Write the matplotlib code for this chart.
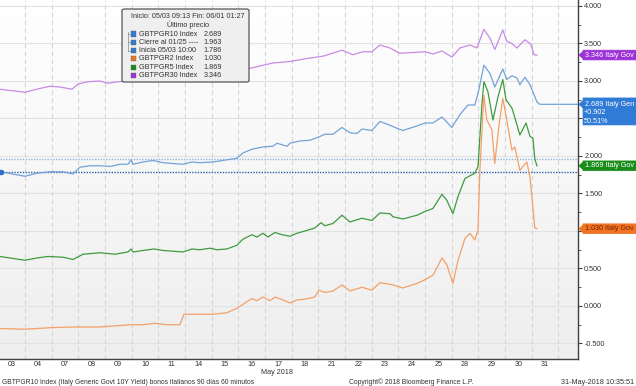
import numpy as np
import matplotlib
matplotlib.use('Agg')
import matplotlib.pyplot as plt
import matplotlib.transforms as mtransforms
from matplotlib.patches import Polygon, FancyBboxPatch, Rectangle
from matplotlib.colors import LinearSegmentedColormap
from matplotlib.ticker import MultipleLocator, FuncFormatter

plt.rcParams['font.family'] = ['Liberation Sans', 'DejaVu Sans']

# ---------------- data ----------------
day_labels = ['03', '04', '07', '08', '09', '10', '11', '14', '15', '16', '17',
              '18', '21', '22', '23', '24', '25', '28', '29', '30', '31']
month_label = 'May 2018'

# time in trading days since start (day i spans [i, i+1])
t30 = [0.06, 1.00, 1.56, 1.94, 2.31, 2.76, 2.99, 3.36, 3.81, 4.11, 4.49, 5.5, 6.5,
       7.19, 8.20, 8.80, 9.06, 9.44, 10.30, 10.94, 11.57, 12.17, 12.89, 13.30, 13.67,
       14.01, 14.31, 14.69, 15.06, 15.55, 16.00, 16.30, 16.64, 17.01, 17.31, 17.69,
       17.95, 18.21, 18.44, 18.62, 18.92, 19.07, 19.26, 19.45, 19.75, 19.97, 20.09, 20.20]
y30 = [2.89, 2.85, 2.90, 2.93, 2.92, 2.89, 2.96, 2.99, 3.00, 2.97, 2.99, 3.01, 3.02,
       3.04, 3.04, 3.05, 3.12, 3.17, 3.24, 3.26, 3.30, 3.33, 3.41, 3.35, 3.39,
       3.39, 3.48, 3.44, 3.37, 3.38, 3.39, 3.36, 3.40, 3.32, 3.44, 3.48,
       3.44, 3.69, 3.57, 3.42, 3.68, 3.53, 3.50, 3.44, 3.55, 3.49, 3.35, 3.346]

t10 = [0.06, 1.00, 1.45, 1.94, 2.43, 2.80, 3.06, 3.44, 3.81, 4.19, 4.56, 4.86, 4.98,
       5.05, 5.43, 5.80, 6.18, 6.55, 6.93, 7.26, 7.56, 8.05, 8.95, 9.17, 9.51, 9.92,
       10.30, 10.45, 10.83, 10.94, 11.31, 11.69, 11.99, 12.25, 12.55, 12.89, 13.19,
       13.45, 13.64, 14.01, 14.31, 14.69, 14.95, 15.17, 15.70, 16.00, 16.30, 16.64,
       17.01, 17.31, 17.61, 17.87, 18.02, 18.21, 18.44, 18.62, 18.92, 19.07, 19.26,
       19.45, 19.56, 19.75, 19.94, 20.20, 20.31]
y10 = [1.79, 1.73, 1.77, 1.79, 1.79, 1.76, 1.85, 1.87, 1.87, 1.86, 1.89, 1.89, 1.95,
       1.89, 1.92, 1.94, 1.91, 1.90, 1.89, 1.92, 1.91, 1.92, 1.97, 2.04, 2.09, 2.12,
       2.13, 2.17, 2.13, 2.17, 2.20, 2.21, 2.25, 2.29, 2.29, 2.38, 2.31,
       2.30, 2.36, 2.34, 2.46, 2.41, 2.37, 2.34, 2.40, 2.44, 2.44, 2.52,
       2.38, 2.55, 2.68, 2.68, 2.88, 3.21, 3.10, 2.92, 3.16, 3.02, 3.07,
       3.04, 2.95, 3.05, 2.95, 2.72, 2.689]

t5 = [0.06, 1.00, 1.45, 1.86, 2.43, 2.80, 3.18, 3.81, 4.38, 4.86, 4.98, 5.05, 5.43,
      5.84, 6.18, 6.93, 7.26, 7.56, 7.94, 8.20, 8.57, 8.95, 9.17, 9.51, 9.70, 9.92,
      10.11, 10.38, 10.64, 10.94, 11.20, 11.50, 11.87, 12.10, 12.25, 12.55, 12.89,
      13.19, 13.64, 14.01, 14.31, 14.69, 14.80, 15.17, 15.70, 16.00, 16.30, 16.64,
      16.82, 17.05, 17.24, 17.50, 17.87, 17.99, 18.14, 18.21, 18.36, 18.55, 18.74,
      18.92, 19.04, 19.26, 19.34, 19.56, 19.79, 19.94, 20.05, 20.12, 20.20]
y5 = [0.66, 0.61, 0.64, 0.66, 0.65, 0.62, 0.69, 0.71, 0.69, 0.72, 0.76, 0.72, 0.74,
      0.76, 0.74, 0.72, 0.76, 0.75, 0.77, 0.75, 0.76, 0.81, 0.89, 0.95, 0.92, 0.97,
      0.92, 0.98, 0.95, 0.93, 0.97, 1.00, 1.04, 1.11, 1.07, 1.10, 1.21,
      1.12, 1.17, 1.14, 1.24, 1.23, 1.19, 1.16, 1.21, 1.26, 1.30, 1.49,
      1.41, 1.23, 1.46, 1.70, 1.77, 1.86, 2.70, 2.99, 2.86, 2.48, 2.79,
      3.02, 2.75, 2.64, 2.55, 2.28, 2.44, 2.26, 2.24, 1.96, 1.869]

t2 = [0.06, 1.00, 1.94, 2.80, 3.81, 4.98, 5.43, 5.88, 6.33, 6.81, 6.96, 7.56, 8.05,
      8.57, 8.95, 9.25, 9.51, 9.70, 9.92, 10.19, 10.38, 10.67, 10.94, 11.20, 11.50,
      11.87, 12.02, 12.25, 12.55, 12.89, 13.19, 13.64, 14.01, 14.31, 14.69, 14.80,
      15.17, 15.70, 16.00, 16.30, 16.64, 16.82, 17.05, 17.24, 17.50, 17.69, 17.87,
      17.99, 18.06, 18.21, 18.32, 18.51, 18.62, 18.77, 18.92, 19.07, 19.26, 19.37,
      19.56, 19.82, 19.94, 20.12, 20.20]
y2 = [-0.30, -0.31, -0.29, -0.28, -0.28, -0.25, -0.25, -0.23, -0.25, -0.25, -0.11, -0.11, -0.11,
      -0.09, -0.03, 0.04, 0.10, 0.07, 0.12, 0.07, 0.12, 0.08, 0.04, 0.08, 0.09,
      0.12, 0.21, 0.18, 0.20, 0.28, 0.20, 0.25, 0.21, 0.31, 0.29, 0.28,
      0.24, 0.30, 0.35, 0.41, 0.64, 0.55, 0.30, 0.61, 0.90, 0.97, 0.88,
      1.01, 1.81, 2.81, 2.48, 2.35, 1.90, 2.39, 2.77, 2.48, 2.08, 2.12,
      1.81, 1.92, 1.72, 1.04, 1.030]

close_0125 = 1.963
start_0503 = 1.786
start_time = 0.10
chg_10 = '+0.902'
pct_10 = '50.51%'
hidden_ticks = [2.5, 1.0]   # covered by price tags in the original

legend_labels = ['GBTPGR10 Index', 'Cierre al 01/25 ----', 'Inicia 05/03 10:00',
                 'GBTPGR2 Index', 'GBTPGR5 Index', 'GBTPGR30 Index']
legend_values = ['2.689', '1.963', '1.786', '1.030', '1.869', '3.346']

# ---------------- style ----------------
c10_line, c10_tag = '#74a2d8', '#2f7bd6'
c2_line, c2_tag = '#f4a068', '#f07424'
c5_line, c5_tag = '#3f9b3f', '#1a8c1a'
c30_line, c30_tag = '#c88ae6', '#9c32d8'
txt = '#333333'
FS = 5.2

W, H = 636, 386
fig = plt.figure(figsize=(W / 100, H / 100), dpi=100)
fig.patch.set_facecolor('white')
ax = fig.add_axes([0, 27 / H, 578 / W, 359 / H])

xmin, xmax = 0.064, 21.74
ymin, ymax = -0.707, 4.08

# background gradient
cmap = LinearSegmentedColormap.from_list('bg', ['#ffffff', '#eeeeee'])
ax.imshow(np.linspace(0, 1, 256).reshape(-1, 1), cmap=cmap, aspect='auto',
          extent=(0, 1, 0, 1), transform=ax.transAxes, origin='upper', zorder=0)

ax.set_xlim(xmin, xmax)
ax.set_ylim(ymin, ymax)

# grid
for yv in np.arange(-0.5, 4.01, 0.5):
    ax.axhline(yv, color='#e2e2e2', lw=0.8, zorder=1)
for xv in range(1, 22):
    ax.axvline(xv, color='#d4d4d4', lw=0.8, ls=(0, (4, 3)), zorder=1)

# reference lines
ax.axhline(close_0125, color='#8fb6e0', lw=1.0, ls=(0, (1, 1)), zorder=2)
ax.axhline(start_0503, color='#2a63a8', lw=1.0, ls=(0, (1, 1)), zorder=2)

# series
ax.plot(t30, y30, color=c30_line, lw=0.9, zorder=3)
ax.plot(t10 + [xmax], y10 + [y10[-1]], color=c10_line, lw=0.9, zorder=3)
ax.plot(t5, y5, color=c5_line, lw=0.9, zorder=3)
ax.plot(t2, y2, color=c2_line, lw=0.9, zorder=3)
ax.plot([start_time], [start_0503], 'o', color='#2f6fc0', ms=3, zorder=4)

# axes styling
for s in ['top', 'left']:
    ax.spines[s].set_visible(False)
for s in ['right', 'bottom']:
    ax.spines[s].set_color('#404040')
    ax.spines[s].set_linewidth(1.0)


def yfmt(v, pos):
    if any(abs(v - h) < 1e-6 for h in hidden_ticks):
        return ''
    return f'{v:.3f}'


ax.yaxis.tick_right()
ax.yaxis.set_major_locator(MultipleLocator(0.5))
ax.yaxis.set_minor_locator(MultipleLocator(0.25))
ax.yaxis.set_major_formatter(FuncFormatter(yfmt))
ax.tick_params(axis='y', which='major', length=3, width=0.8, color='#404040',
               labelsize=FS, labelcolor=txt, pad=1.5)
ax.tick_params(axis='y', which='minor', length=2, width=0.6, color='#404040')

ax.set_xticks([i + 0.5 for i in range(len(day_labels))])
ax.set_xticklabels(day_labels)
ax.tick_params(axis='x', length=0, labelsize=FS, labelcolor=txt, pad=1.8)

# ---------------- right-side tags ----------------
tr = mtransforms.blended_transform_factory(fig.transFigure, ax.transData)
x0 = 579 / W
xa = 583 / W
x1 = 1.0
hh = 0.065


def tag(val, color, text, tcolor='white', top=None, bottom=None, extra=None):
    t = val + hh if top is None else top
    b = val - hh if bottom is None else bottom
    poly = Polygon([(x0, val), (xa, val + 0.05), (xa, t), (x1, t), (x1, b),
                    (xa, b), (xa, val - 0.05)], closed=True, transform=tr,
                   facecolor=color, edgecolor=color, lw=0.5, clip_on=False, zorder=20)
    ax.add_patch(poly)
    ax.text(585 / W, val, text, transform=tr, fontsize=FS, color=tcolor,
            va='center', ha='left', zorder=21, clip_on=False)
    if extra:
        for i, e in enumerate(extra):
            ax.text(584 / W, val - 0.115 * (i + 1), e, transform=tr, fontsize=FS,
                    color=tcolor, va='center', ha='left', zorder=21, clip_on=False)


tag(y30[-1], c30_tag, f'{y30[-1]:.3f} Italy Gov')
tag(y10[-1], c10_tag, f'{y10[-1]:.3f} Italy Gen', top=y10[-1] + 0.085,
    bottom=y10[-1] - 0.275, extra=[chg_10, pct_10])
tag(y5[-1], c5_tag, f'{y5[-1]:.3f} Italy Gov')
tag(y2[-1], c2_tag, f'{y2[-1]:.3f} Italy Gov', tcolor='#7a2400')

# ---------------- legend box ----------------
def fx(px):
    return px / W


def fy(py):
    return 1 - py / H


box = FancyBboxPatch((fx(122), fy(82)), fx(249) - fx(122), fy(9) - fy(82),
                     boxstyle='round,pad=0,rounding_size=0.004',
                     transform=fig.transFigure, facecolor='#efefef',
                     edgecolor='#555555', lw=0.9, zorder=30)
fig.add_artist(box)
fig.text(fx(188), fy(16), 'Inicio: 05/03 09:13 Fin: 06/01 01:27', fontsize=FS,
         color=txt, ha='center', va='center', zorder=31)
fig.text(fx(188), fy(25), 'Último precio', fontsize=FS, color=txt,
         ha='center', va='center', zorder=31)
sq_colors = [c10_tag, c10_tag, c10_tag, c2_tag, c5_tag, c30_tag]
for i, (lab, val, col) in enumerate(zip(legend_labels, legend_values, sq_colors)):
    yy = 34 + i * 8.3
    fig.add_artist(Rectangle((fx(131), fy(yy + 2.5)), 5 / W, 5 / H,
                             transform=fig.transFigure, facecolor=col,
                             edgecolor='#666666', lw=0.3, zorder=31))
    fig.text(fx(139), fy(yy), lab, fontsize=FS, color=txt, ha='left',
             va='center', zorder=31)
    fig.text(fx(222), fy(yy), val, fontsize=FS, color=txt, ha='right',
             va='center', zorder=31)
# tree connector
fig.add_artist(plt.Line2D([fx(127.5), fx(127.5)], [fy(32), fy(51)],
                          transform=fig.transFigure, color='#999999', lw=0.6, zorder=31))
for yy in [34, 42.3, 50.6]:
    fig.add_artist(plt.Line2D([fx(127.5), fx(130)], [fy(yy), fy(yy)],
                              transform=fig.transFigure, color='#999999', lw=0.6, zorder=31))

# ---------------- footer texts ----------------
fig.text(fx(277), fy(373), month_label, fontsize=FS, color=txt, ha='center', va='center')
fig.text(fx(2), fy(382), 'GBTPGR10 Index (Italy Generic Govt 10Y Yield) bonos italianos 90 días 60 minutos',
         fontsize=4.9, color=txt, ha='left', va='center')
fig.text(fx(411), fy(382), 'Copyright© 2018 Bloomberg Finance L.P.', fontsize=4.9,
         color=txt, ha='center', va='center')
fig.text(fx(634), fy(382), '31-May-2018 10:35:51', fontsize=FS, color=txt,
         ha='right', va='center')

fig.savefig('out.png', dpi=100, facecolor='white')
